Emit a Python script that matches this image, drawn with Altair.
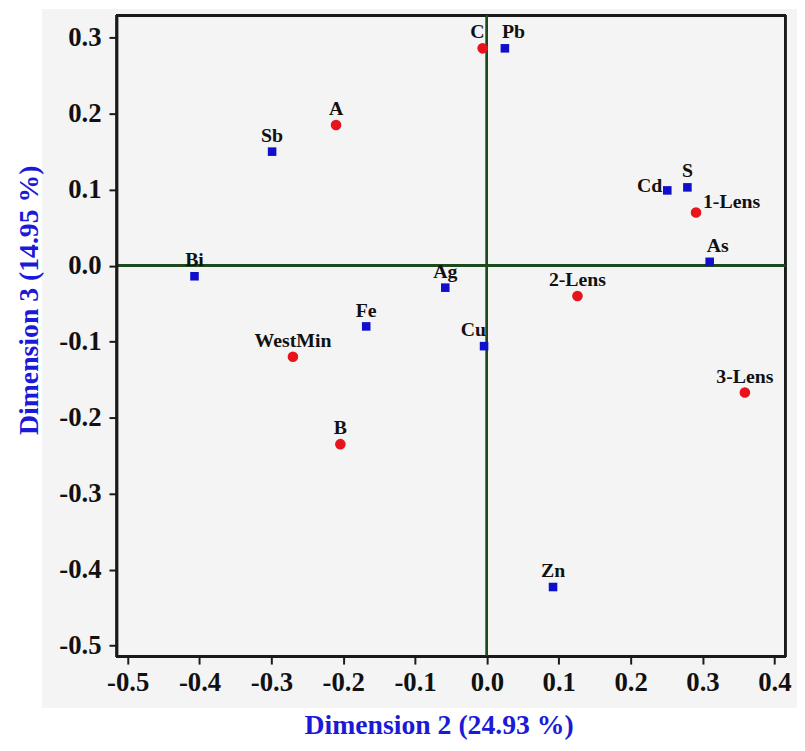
import altair as alt
import pandas as pd

# ---- data ----
names = ["C", "Pb", "A", "Sb", "Cd", "S", "1-Lens", "As", "Bi", "Ag",
         "2-Lens", "Fe", "WestMin", "Cu", "3-Lens", "B", "Zn"]
dim2 = [-0.006, 0.025, -0.210, -0.299, 0.251, 0.279, 0.291, 0.310, -0.407, -0.058,
        0.126, -0.168, -0.270, -0.004, 0.359, -0.204, 0.092]
dim3 = [0.286, 0.286, 0.185, 0.150, 0.099, 0.103, 0.070, 0.005, -0.014, -0.029,
        -0.040, -0.080, -0.120, -0.106, -0.167, -0.235, -0.423]
kind = ["sample", "element", "sample", "element", "element", "element", "sample", "element",
        "element", "element", "sample", "element", "sample", "element", "sample", "sample", "element"]

x_ticks = [-0.5, -0.4, -0.3, -0.2, -0.1, 0.0, 0.1, 0.2, 0.3, 0.4]
y_ticks = [-0.5, -0.4, -0.3, -0.2, -0.1, 0.0, 0.1, 0.2, 0.3]

label_place = {"C": "aboveleft", "Pb": "aboveright", "Cu": "aboveleft",
               "As": "aboveright", "Cd": "left", "1-Lens": "right"}

df = pd.DataFrame({"name": names, "dim2": dim2, "dim3": dim3, "kind": kind})
df["place"] = [label_place.get(n, "above") for n in names]

FONT = "Liberation Serif"
BLUE_TITLE = "#1a1ad8"

label_expr = "(datum.value < 0 ? '-' : '') + format(abs(datum.value), '.1f')"

x_enc = alt.X("dim2:Q",
              scale=alt.Scale(domain=[-0.515, 0.415], nice=False, zero=False),
              axis=alt.Axis(values=x_ticks, labelExpr=label_expr, grid=False,
                            title="Dimension 2 (24.93 %)",
                            titleX=325, titleY=70, titleAlign="center",
                            titleBaseline="middle",
                            labelPadding=6, zindex=2))
y_enc = alt.Y("dim3:Q",
              scale=alt.Scale(domain=[-0.514, 0.329], nice=False, zero=False),
              axis=alt.Axis(values=y_ticks, labelExpr=label_expr, grid=False,
                            title="Dimension 3 (14.95 %)",
                            titleX=-88, titleY=287, titleAlign="center",
                            titleBaseline="middle", titleAngle=270,
                            labelPadding=8, zindex=2))

base = alt.Chart(df)

panel = base.mark_rect(color="#f4f4f4").encode(
    x=alt.value(-75), x2=alt.value(690), y=alt.value(-6), y2=alt.value(699)
)

frame = base.mark_rect(filled=False, stroke="#1a1a1a", strokeWidth=2).encode(
    x=alt.value(0), x2=alt.value("width"), y=alt.value(0), y2=alt.value("height")
)

vline = base.mark_rule(color="#1e4a1e", strokeWidth=2).encode(x=alt.datum(0.0))
hline = base.mark_rule(color="#1e4a1e", strokeWidth=2).encode(y=alt.datum(0.0))

samples = base.transform_filter(alt.datum.kind == "sample").mark_circle(
    size=115, color="#e8141b", opacity=1
).encode(x=x_enc, y=y_enc)

elements = base.transform_filter(alt.datum.kind == "element").mark_square(
    size=75, color="#1010cc", opacity=1
).encode(x=x_enc, y=y_enc)

def labels(place, **kw):
    return base.transform_filter(alt.datum.place == place).mark_text(
        font=FONT, fontWeight="bold", fontSize=20, color="#111111", **kw
    ).encode(x=x_enc, y=y_enc, text="name:N")

lab_above = labels("above", align="center", baseline="bottom", dy=-6)
lab_al = labels("aboveleft", align="right", baseline="bottom", dy=-6, dx=2)
lab_ar = labels("aboveright", align="left", baseline="bottom", dy=-6, dx=-3)
lab_left = labels("left", align="right", baseline="middle", dx=-5, dy=-4)
lab_right = labels("right", align="left", baseline="middle", dx=7, dy=-10)

chart = alt.layer(
    panel, frame, vline, hline, elements, samples,
    lab_above, lab_al, lab_ar, lab_left, lab_right
).properties(
    width=675, height=647,
    autosize=alt.AutoSizeParams(type="none"),
    padding={"left": 110, "top": 4, "right": 12, "bottom": 84},
    background="white",
).configure_view(
    stroke=None, fill=None
).configure_axis(
    labelFont=FONT, labelFontWeight="bold", labelFontSize=27, labelColor="#111111",
    titleFont=FONT, titleFontWeight="bold", titleFontSize=28, titleColor=BLUE_TITLE,
    domainColor="#1a1a1a", domainWidth=2, tickColor="#1a1a1a", tickWidth=2, tickSize=8
)

chart.save("out.html", embed_options={"renderer": "svg", "actions": False})
